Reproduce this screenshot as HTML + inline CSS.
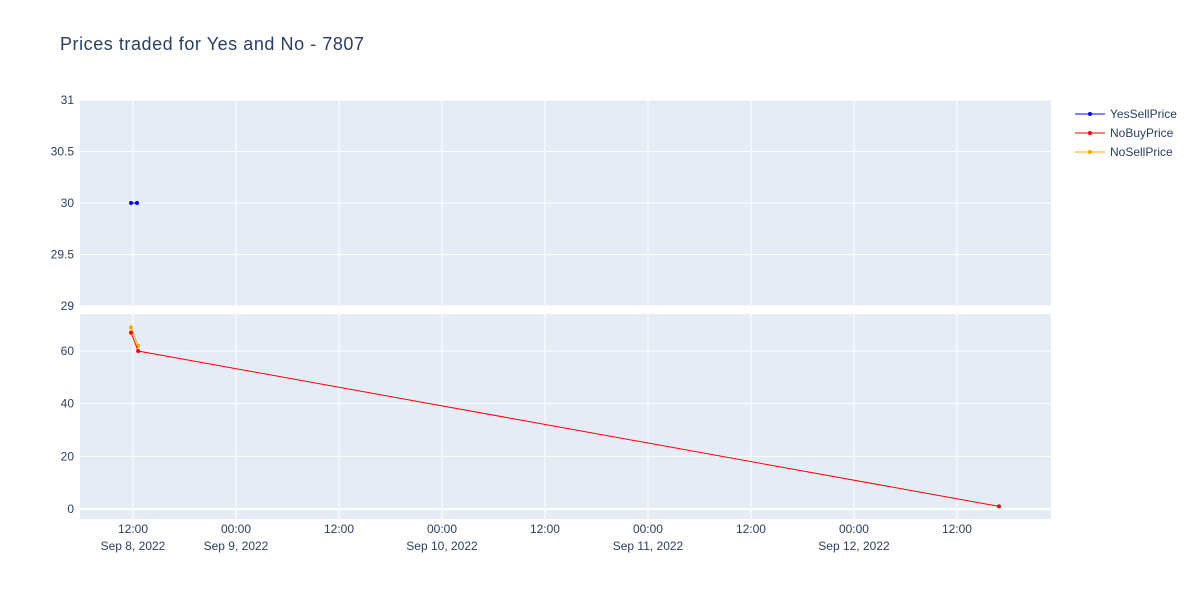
<!DOCTYPE html>
<html><head><meta charset="utf-8"><style>
body{margin:0;background:#fff;font-family:"Liberation Sans",Arial,sans-serif;}
svg text{font-family:"Liberation Sans",Arial,sans-serif;fill:#2a3f5f;}
</style></head><body>
<svg id="c" width="1200" height="600">
<text x="60" y="50" font-size="18" textLength="304">Prices traded for Yes and No - 7807</text>
</svg>
<script>
// hours since Sep 8 2022 00:00
const yesT=[11.77,12.47];
const yesSell=[30,30];
const noBuyT=[11.77,12.6,112.9];
const noBuy=[67,60,1];
const noSellT=[11.77,12.6];
const noSell=[69,62];
const xTickHours=[12,24,36,48,60,72,84,96,108];
const xTickTop=['12:00','00:00','12:00','00:00','12:00','00:00','12:00','00:00','12:00'];
const xTickBot=['Sep 8, 2022','Sep 9, 2022','','Sep 10, 2022','','Sep 11, 2022','','Sep 12, 2022',''];
const topTicks=[29,29.5,30,30.5,31];
const botTicks=[0,20,40,60];

const svg=document.getElementById('c');const NS='http://www.w3.org/2000/svg';
function mk(t,a,p){const e=document.createElementNS(NS,t);for(const k in a)e.setAttribute(k,a[k]);(p||svg).appendChild(e);return e;}
const X0=80,X1=1051;
const xs=h=>133+(h-12)*8.583;
const yT=v=>306-(v-29)*(206/2);
const yB=v=>509-v*2.633;
const topRect=mk('rect',{x:X0,y:100,width:X1-X0,height:206,fill:'#e5ecf6'});


const botRect=mk('rect',{x:X0,y:314,width:X1-X0,height:205,fill:'#e5ecf6'});


xTickHours.forEach((h,i)=>{const x=xs(h);
 mk('line',{x1:x,x2:x,y1:100,y2:306,stroke:'#fff','stroke-width':1});
 mk('line',{x1:x,x2:x,y1:314,y2:519,stroke:'#fff','stroke-width':1});
 const t=mk('text',{x:x,y:533,'font-size':12,'text-anchor':'middle'});t.textContent=xTickTop[i];
 
 
 if(xTickBot[i]){const t2=mk('text',{x:x,y:550,'font-size':12,'text-anchor':'middle'});t2.textContent=xTickBot[i];
 
 }
});
topTicks.forEach(v=>{const y=yT(v);mk('line',{x1:X0,x2:X1,y1:y,y2:y,stroke:'#fff','stroke-width':1});
 const t=mk('text',{x:74,y:y+4,'font-size':12,'text-anchor':'end'});t.textContent=String(v);
 
 });
botTicks.forEach(v=>{const y=yB(v);mk('line',{x1:X0,x2:X1,y1:y,y2:y,stroke:'#fff','stroke-width':v===0?2:1});
 const t=mk('text',{x:74,y:y+4,'font-size':12,'text-anchor':'end'});t.textContent=String(v);
 
 });
function series(T,V,yf,col,name){
 const pts=T.map((t,i)=>xs(t)+','+yf(V[i])).join(' ');
 const l=mk('polyline',{points:pts,fill:'none',stroke:col,'stroke-width':1});
 
 
 T.forEach((t,i)=>{const c=mk('circle',{cx:xs(t),cy:yf(V[i]),r:2,fill:col});
 
 });
}
series(noSellT,noSell,yB,'orange','nosellprice');
series(noBuyT,noBuy,yB,'red','nobuyprice');
series(yesT,yesSell,yT,'blue','yessellprice');
[['YesSellPrice','blue'],['NoBuyPrice','red'],['NoSellPrice','orange']].forEach((e,i)=>{
 const y=114+i*19;
 const g=mk('g',{});
 
 
 mk('line',{x1:1075,x2:1105,y1:y,y2:y,stroke:e[1],'stroke-width':1},g);
 mk('circle',{cx:1090,cy:y,r:2,fill:e[1]},g);
 const t=mk('text',{x:1110,y:y+4,'font-size':12},g);t.textContent=e[0];
});
</script>
</body></html>
